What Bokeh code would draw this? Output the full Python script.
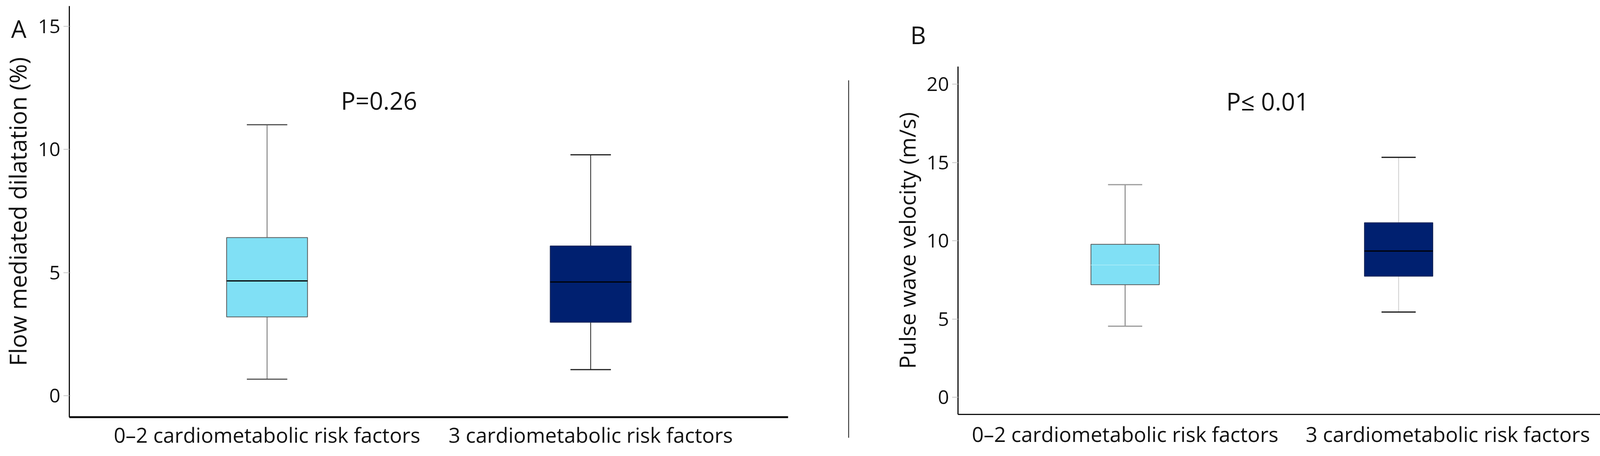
from bokeh.plotting import figure
from bokeh.models import Span, Label, FixedTicker, Range1d
from bokeh.layouts import row
from bokeh.embed import file_html
from bokeh.resources import INLINE

# ---------------- data ----------------
groups = ["0–2 cardiometabolic risk factors", "3 cardiometabolic risk factors"]

fmd_low = [0.67, 1.06]
fmd_q1 = [3.20, 2.98]
fmd_med = [4.66, 4.62]
fmd_q3 = [6.42, 6.08]
fmd_high = [11.0, 9.78]

pwv_low = [4.54, 5.44]
pwv_q1 = [7.19, 7.73]
pwv_med = [8.45, 9.34]
pwv_q3 = [9.77, 11.15]
pwv_high = [13.58, 15.33]

fmd_ticks = [0, 5, 10, 15]
pwv_ticks = [0, 5, 10, 15, 20]

fmd_title = "Flow mediated dilatation (%)"
pwv_title = "Pulse wave velocity (m/s)"
fmd_p = "P=0.26"
pwv_p = "P≤ 0.01"

FONT = "Open Sans"
LIGHT = "#80E0F5"
NAVY = "#002070"
INK = "#111111"


def make_panel(width, height, borders, xr, yr, yticks, ytitle, tsize,
               low, q1, med, q3, high, styles, label_pos,
               xaxis_width, xstand, ptext, pxy, letter, lxy, lplace):
    p = figure(width=width, height=height, output_backend="svg",
               toolbar_location=None, x_range=Range1d(*xr), y_range=Range1d(*yr),
               min_border_left=borders[0], min_border_right=borders[1],
               min_border_top=borders[2], min_border_bottom=borders[3])
    p.frame_align = False
    p.outline_line_color = None
    p.grid.visible = False
    p.background_fill_color = "white"
    p.border_fill_color = "white"

    xs = list(range(len(low)))
    bw = 0.25
    cw = 0.125
    for i in xs:
        st = styles[i]
        # whiskers
        p.segment(x0=[xs[i]], y0=[q3[i]], x1=[xs[i]], y1=[high[i]],
                  line_color=st["wc"], line_width=2)
        p.segment(x0=[xs[i]], y0=[low[i]], x1=[xs[i]], y1=[q1[i]],
                  line_color=st["wc"], line_width=2)
        # caps
        p.segment(x0=[xs[i] - cw / 2, xs[i] - cw / 2], y0=[high[i], low[i]],
                  x1=[xs[i] + cw / 2, xs[i] + cw / 2], y1=[high[i], low[i]],
                  line_color=st["cc"], line_width=3)
        # box
        p.vbar(x=[xs[i]], width=bw, bottom=[q1[i]], top=[q3[i]],
               fill_color=st["fill"], line_color=st["lc"], line_width=2)
        # median
        p.segment(x0=[xs[i] - bw / 2], y0=[med[i]], x1=[xs[i] + bw / 2], y1=[med[i]],
                  line_color=st["mc"], line_width=st["mw"])

    # y axis
    ya = p.yaxis[0]
    ya.ticker = FixedTicker(ticks=yticks)
    ya.minor_tick_line_color = None
    ya.major_tick_in = 0
    ya.major_tick_out = 15
    ya.major_tick_line_color = "#c8c8c8"
    ya.major_tick_line_width = 2
    ya.axis_line_color = INK
    ya.axis_line_width = 3
    ya.major_label_text_font = FONT
    ya.major_label_text_font_size = "50px"
    ya.major_label_text_color = INK
    ya.major_label_standoff = 8
    ya.axis_label = ytitle
    ya.axis_label_text_font = FONT
    ya.axis_label_text_font_size = tsize
    ya.axis_label_text_font_style = "normal"
    ya.axis_label_text_color = INK
    ya.axis_label_standoff = 8

    # x axis
    xa = p.xaxis[0]
    xa.ticker = FixedTicker(ticks=label_pos)
    xa.major_label_overrides = {label_pos[i]: groups[i] for i in range(len(groups))}
    xa.minor_tick_line_color = None
    xa.major_tick_line_color = None
    xa.major_tick_in = 0
    xa.major_tick_out = 0
    xa.axis_line_color = INK
    xa.axis_line_width = xaxis_width
    xa.major_label_text_font = FONT
    xa.major_label_text_font_size = "53px"
    xa.major_label_text_color = INK
    xa.major_label_standoff = xstand

    p.add_layout(Label(x=pxy[0], y=pxy[1], text=ptext, text_font=FONT,
                       text_font_size="62px", text_color=INK,
                       text_align="center", text_baseline="alphabetic"))
    p.add_layout(Label(x=lxy[0], y=lxy[1], x_units="canvas", y_units="canvas",
                       text=letter, text_font=FONT,
                       text_font_size="62px", text_color=INK,
                       text_align="left", text_baseline="alphabetic"), lplace)
    return p


H = 1152

left_styles = [
    dict(fill=LIGHT, lc="#5a5a5a", mc="#000000", mw=3, wc="#6a6a6a", cc="#555555"),
    dict(fill=NAVY, lc="#1a2a5a", mc="#000000", mw=3, wc="#222222", cc="#222222"),
]
right_styles = [
    dict(fill=LIGHT, lc="#5a5a5a", mc="#a8ecf8", mw=2, wc="#6a6a6a", cc="#9a9a9a"),
    dict(fill=NAVY, lc="#1a2a5a", mc="#000000", mw=3, wc="#cccccc", cc="#111111"),
]

p1 = make_panel(2162, H, (177, 145, 15, 81), (-0.611, 1.610), (-0.87, 15.82),
                fmd_ticks, fmd_title, "60px", fmd_low, fmd_q1, fmd_med, fmd_q3, fmd_high,
                left_styles, [0, 1], 5, 8, fmd_p, (0.346, 12.0), "A", (28, 72), "right")

p2 = make_panel(1937, H, (270, 9, 170, 91), (-0.611, 1.757), (-1.10, 21.13),
                pwv_ticks, pwv_title, "57px", pwv_low, pwv_q1, pwv_med, pwv_q3, pwv_high,
                right_styles, [0, 1.18], 3, 13, pwv_p, (0.521, 18.93), "B", (148, 88), "above")

# thin divider between the panels
pd = figure(width=20, height=H, output_backend="svg", toolbar_location=None,
            x_range=Range1d(-1, 1), y_range=Range1d(0, 1),
            x_axis_type=None, y_axis_type=None,
            min_border_left=0, min_border_right=0, min_border_top=205, min_border_bottom=31)
pd.frame_align = False
pd.outline_line_color = None
pd.grid.visible = False
pd.add_layout(Span(location=0, dimension="height", line_color=INK, line_width=2))

layout = row(p1, pd, p2, spacing=0)

open("out.html", "w").write(file_html(layout, INLINE))
